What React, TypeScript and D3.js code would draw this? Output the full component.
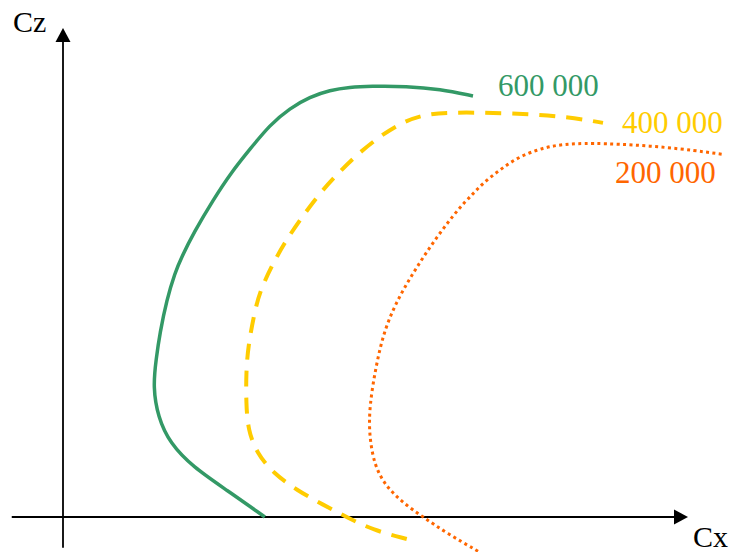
import React from "react";
import * as d3 from "d3";

// Polar curves: [Cx, Cz] in arbitrary units (0..100 on each axis)
const curve600k: [number, number][] = [
  [32.3, 0], [26.2, 5.5], [20.8, 10.2], [17.1, 15.1], [15.2, 20.4], [14.4, 26.6],
  [14.9, 32.3], [15.5, 37.6], [16.6, 44.4], [17.9, 49.9], [19.0, 53.2], [20.9, 58.1],
  [24.0, 64.8], [27.0, 70.6], [29.9, 75.2], [33.1, 80.2], [36.3, 83.6], [39.5, 85.9], [42.7, 87.3],
  [45.9, 87.9], [49.1, 88.1], [55.0, 88.1], [60.3, 87.5], [65.6, 86.1],
];
const curve400k: [number, number][] = [
  [55.0, -4.5], [49.6, -2.7], [45.4, 0], [41.6, 2.5], [37.4, 5.5], [33.6, 9.0],
  [31.0, 13.1], [29.6, 17.8], [29.3, 23.3], [29.3, 29.4], [29.6, 34.8], [30.7, 42.3],
  [31.6, 46.4], [33.3, 51.1], [35.4, 56.0], [37.9, 60.7], [40.8, 65.8], [43.8, 70.0],
  [46.6, 73.6], [50.2, 77.4], [53.9, 80.5], [57.6, 82.3], [61.9, 82.8], [72.0, 82.6],
  [81.1, 81.8], [86.4, 80.6],
];
const curve200k: [number, number][] = [
  [66.4, -7.0], [61.4, -3.3], [57.6, 0], [54.4, 2.9], [51.8, 6.1], [49.9, 10.2],
  [49.0, 16.4], [49.0, 22.5], [50.1, 31.1], [51.5, 38.7], [53.9, 45.4], [56.6, 51.1],
  [59.8, 57.3], [63.5, 63.4], [65.4, 65.8], [67.2, 68.3], [69.9, 71.0], [72.6, 73.4],
  [75.8, 75.1], [78.4, 75.9], [80.8, 76.3], [85.9, 76.5], [96.6, 75.7], [105.4, 74.2],
];
const seriesNames = ["600 000", "400 000", "200 000"];
const axisLabels = ["Cx", "Cz"];

const W = 729;
const H = 552;
const x = d3.scaleLinear().domain([0, 100]).range([63, 688]);
const y = d3.scaleLinear().domain([0, 100]).range([517, 28]);

const FONT = "'Liberation Serif', 'Times New Roman', serif";

export default function App() {
  const line = d3
    .line<[number, number]>()
    .x((d) => x(d[0]))
    .y((d) => y(d[1]))
    .curve(d3.curveBasis);

  const x0 = x(0);
  const y0 = y(0);
  const xTip = x(100);
  const yTip = y(100);
  const ah = 14;
  const aw = 7.5;

  const series = [
    { data: curve600k, color: "#339966", width: 3.5, dash: undefined, label: seriesNames[0], lx: 498, ly: 96 },
    { data: curve400k, color: "#FFCC00", width: 4, dash: "16 11", label: seriesNames[1], lx: 622, ly: 133 },
    { data: curve200k, color: "#FF6600", width: 3, dash: "3 3.4", label: seriesNames[2], lx: 615, ly: 183 },
  ];

  return (
    <svg
      width={W}
      height={H}
      style={{ position: "absolute", left: 0, top: 0, background: "#fff" }}
    >
      {/* axes */}
      <line x1={x(-8.2)} y1={y0} x2={xTip - ah + 1} y2={y0} stroke="#000" strokeWidth={1.8} />
      <path d={`M${xTip},${y0} L${xTip - ah},${y0 - aw} L${xTip - ah},${y0 + aw} Z`} fill="#000" />
      <line x1={x0} y1={y(-6.3)} x2={x0} y2={yTip + ah - 1} stroke="#000" strokeWidth={1.8} />
      <path d={`M${x0},${yTip} L${x0 - aw},${yTip + ah} L${x0 + aw},${yTip + ah} Z`} fill="#000" />
      <text x={13} y={32} fontFamily={FONT} fontSize={30} fill="#000">{axisLabels[1]}</text>
      <text x={693} y={547} fontFamily={FONT} fontSize={30} fill="#000">{axisLabels[0]}</text>

      {series.map((s, i) => (
        <g key={i}>
          <path
            d={line(s.data) || ""}
            fill="none"
            stroke={s.color}
            strokeWidth={s.width}
            strokeDasharray={s.dash}
          />
          <text x={s.lx} y={s.ly} fontFamily={FONT} fontSize={31} fill={s.color}>
            {s.label}
          </text>
        </g>
      ))}
    </svg>
  );
}
